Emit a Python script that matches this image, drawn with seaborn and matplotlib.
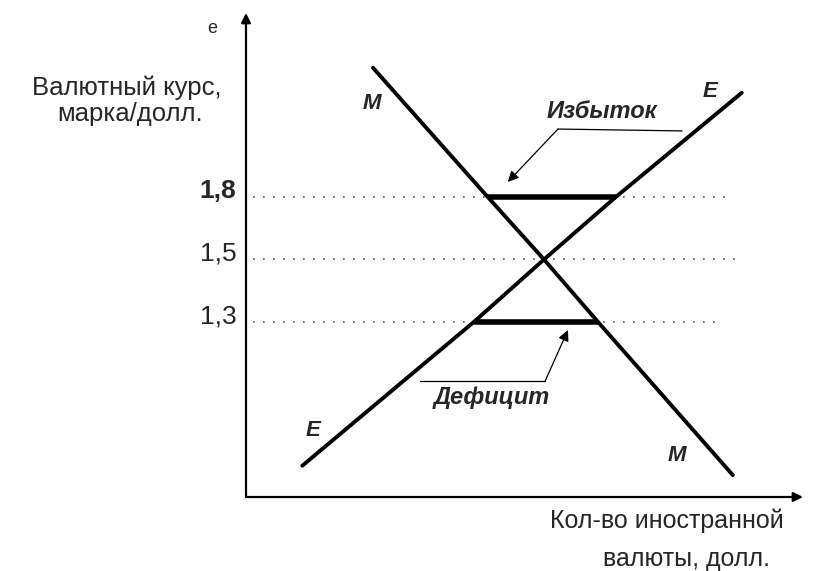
import numpy as np
import matplotlib
matplotlib.use("Agg")
import matplotlib.pyplot as plt
import seaborn as sns

# Exchange-rate levels marked on the vertical axis
rate_levels = [1.8, 1.5, 1.3]
rate_labels = ["1,8", "1,5", "1,3"]

# M curve (demand for foreign currency) and E curve (supply)
m_qty = [22.8, 43.4, 53.5, 63.2, 87.4]
m_rate = [2.42, 1.8, 1.5, 1.3, 0.81]
e_qty = [10.1, 40.9, 53.5, 66.4, 89.0]
e_rate = [0.84, 1.3, 1.5, 1.8, 2.30]

sns.set_theme(style="white")
plt.rcParams["font.family"] = ["Liberation Sans", "DejaVu Sans"]


# schematic scale: equal spacing between the marked rates
def fwd(r):
    r = np.asarray(r, dtype=float)
    return np.where(r >= 1.5, (r - 1.5) / 0.3, (r - 1.5) / 0.2)


def inv(u):
    u = np.asarray(u, dtype=float)
    return np.where(u >= 0, 1.5 + 0.3 * u, 1.5 + 0.2 * u)


W, H = 813, 571
fig = plt.figure(figsize=(W / 100, H / 100), dpi=100)
ax = fig.add_axes([246 / W, (H - 497) / H, (803 - 246) / W, (497 - 13) / H])
ax.set_yscale("function", functions=(fwd, inv))
ymin, ymax = 0.74, 2.683
ax.set_xlim(0, 100)
ax.set_ylim(ymin, ymax)
for s in ax.spines.values():
    s.set_visible(False)
ax.set_xticks([])
ax.set_yticks([])

# axes with arrows
arrow = dict(arrowstyle="-|>", lw=1.6, color="black", mutation_scale=14,
             shrinkA=0, shrinkB=0)
ax.annotate("", xy=(100, ymin), xytext=(0, ymin), arrowprops=arrow,
            annotation_clip=False)
ax.annotate("", xy=(0, ymax), xytext=(0, ymin), arrowprops=arrow,
            annotation_clip=False)

# dotted guide lines
ax.hlines(rate_levels, 1.3, [86.9, 88.2, 85.6], colors="#555555", lw=1.2,
          linestyles=[(0, (1, 5))])

# curves
sns.lineplot(x=m_qty, y=m_rate, ax=ax, color="black", lw=2.8, sort=False,
             estimator=None)
sns.lineplot(x=e_qty, y=e_rate, ax=ax, color="black", lw=2.8, sort=False,
             estimator=None)

# surplus at 1.8 and deficit at 1.3
hi, lo = 1.8, 1.3
ax.hlines(hi, m_qty[m_rate.index(hi)], e_qty[e_rate.index(hi)],
          colors="black", lw=4)
ax.hlines(lo, e_qty[e_rate.index(lo)], m_qty[m_rate.index(lo)],
          colors="black", lw=4)

# tick labels
for lvl, lab in zip(rate_levels, rate_labels):
    ax.annotate(lab, xy=(0, lvl), xytext=(-7, 4), textcoords="offset points",
                ha="right", va="center", fontsize=19,
                fontweight="bold" if lab == "1,8" else "normal",
                annotation_clip=False)

# curve names
lab_kw = dict(fontsize=16, fontweight="bold", fontstyle="italic",
              ha="center", va="center")
ax.text(22.6, 2.251, "M", **lab_kw)
ax.text(77.4, 0.874, "M", **lab_kw)
ax.text(83.3, 2.304, "E", **lab_kw)
ax.text(12.0, 0.954, "E", **lab_kw)

# surplus / deficit callouts
thin = dict(arrowstyle="-|>", lw=0.9, color="black", mutation_scale=16,
            shrinkA=0, shrinkB=0)
call_kw = dict(fontsize=17, fontweight="bold", fontstyle="italic",
               ha="center", va="center")
ax.text(63.9, 2.208, "Избыток", **call_kw)
ax.plot([56.0, 78.3], [2.126, 2.117], color="black", lw=0.9)
ax.annotate("", xy=(47.0, 1.872), xytext=(56.0, 2.126), arrowprops=thin)
ax.text(44.2, 1.057, "Дефицит", **call_kw)
ax.plot([31.2, 53.7], [1.111, 1.111], color="black", lw=0.9)
ax.annotate("", xy=(57.8, 1.274), xytext=(53.7, 1.111), arrowprops=thin)

# axis titles
fig.text(212 / W, (H - 33) / H, "e", fontsize=13, ha="center", va="baseline")
fig.text(127 / W, (H - 95) / H, "Валютный курс,", fontsize=18.5,
         ha="center", va="baseline")
fig.text(130 / W, (H - 121) / H, "марка/долл.", fontsize=18.5,
         ha="center", va="baseline")
fig.text(667 / W, (H - 528) / H, "Кол-во иностранной", fontsize=18,
         ha="center", va="baseline")
fig.text(686 / W, (H - 566) / H, "валюты, долл.", fontsize=18,
         ha="center", va="baseline")

fig.savefig("out.png", dpi=100)
